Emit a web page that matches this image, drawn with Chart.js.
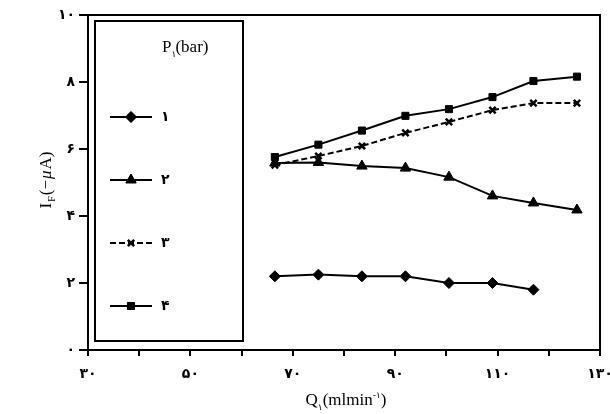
<!DOCTYPE html>
<html>
<head>
<meta charset="utf-8">
<script src="https://cdn.jsdelivr.net/npm/chart.js@4"></script>
<style>
  body { margin: 0; background: #fff; }
  #wrap { width: 610px; height: 414px; }
</style>
</head>
<body>
<div id="wrap"><canvas id="flow-chart" width="610" height="414"></canvas></div>
<script>
// liquid flow rate (ml/min) on x, current on y, one series per pressure
const flowRates = [66.5, 75, 83.5, 92, 100.5, 109, 117, 125.5];
const current1 = [2.2, 2.25, 2.2, 2.2, 2.0, 2.0, 1.8, null];
const current2 = [5.58, 5.6, 5.49, 5.43, 5.16, 4.6, 4.39, 4.18];
const current3 = [5.52, 5.79, 6.09, 6.48, 6.81, 7.16, 7.37, 7.37];
const current4 = [5.76, 6.13, 6.55, 6.99, 7.19, 7.55, 8.03, 8.16];
const pressureLabels = ["۱", "۲", "۳", "۴"];
const xTickValues = [30, 50, 70, 90, 110, 130];
const yTickValues = [0, 2, 4, 6, 8, 10];

const FONT = "'Liberation Serif', 'DejaVu Serif', 'DejaVu Sans', serif";
const DIGIT_FONT = "'DejaVu Sans', sans-serif";

function toPersian(n) {
  return String(n).replace(/\d/g, (d) => "۰۱۲۳۴۵۶۷۸۹"[d]);
}

function pts(values) {
  return flowRates.map((x, i) => ({ x: x, y: values[i] }));
}

const seriesStyle = [
  { data: current1, pointStyle: "rectRot", pointRadius: 5.5, borderDash: [] },
  { data: current2, pointStyle: "triangle", pointRadius: 6, borderDash: [] },
  { data: current3, pointStyle: "crossRot", pointRadius: 4.5, borderDash: [6, 3] },
  { data: current4, pointStyle: "rect", pointRadius: 5, borderDash: [] },
];

const datasets = seriesStyle.map((s, i) => ({
  label: pressureLabels[i],
  data: pts(s.data),
  borderColor: "#000",
  backgroundColor: "#000",
  borderWidth: 2,
  borderDash: s.borderDash,
  pointStyle: s.pointStyle,
  pointRadius: s.pointRadius,
  pointBorderWidth: s.pointStyle === "crossRot" ? 2.5 : 1,
  pointBorderColor: "#000",
  pointBackgroundColor: "#000",
  tension: 0,
  spanGaps: false,
}));

// frame, axis titles and the boxed legend
const decorations = {
  id: "decorations",
  afterDraw(chart) {
    const ctx = chart.ctx;
    const a = chart.chartArea;
    ctx.save();
    ctx.strokeStyle = "#000";
    ctx.fillStyle = "#000";
    ctx.lineWidth = 2;
    ctx.strokeRect(a.left, a.top, a.right - a.left, a.bottom - a.top);

    // legend box
    const bx = a.left + 7, by = a.top + 6, bw = 148, bh = 320;
    ctx.strokeRect(bx, by, bw, bh);

    ctx.textBaseline = "alphabetic";
    ctx.textAlign = "left";
    ctx.font = "17px " + FONT;
    let tx = bx + 67, ty = by + 31;
    ctx.fillText("P", tx, ty);
    tx += ctx.measureText("P").width;
    ctx.font = "9px " + DIGIT_FONT;
    ctx.fillText("۱", tx, ty + 5);
    tx += 4;
    ctx.font = "17px " + FONT;
    ctx.fillText("(bar)", tx, ty);

    const rowY = [117, 180, 243, 306];
    chart.data.datasets.forEach((ds, i) => {
      const y = rowY[i];
      ctx.lineWidth = 2;
      ctx.setLineDash(ds.borderDash);
      ctx.beginPath();
      ctx.moveTo(bx + 15, y);
      ctx.lineTo(bx + 57, y);
      ctx.stroke();
      ctx.setLineDash([]);
      ctx.lineWidth = ds.pointBorderWidth;
      Chart.helpers.drawPoint(ctx, {
        pointStyle: ds.pointStyle,
        radius: ds.pointRadius,
        borderWidth: ds.pointBorderWidth,
      }, bx + 36, y);
      ctx.fill();
      ctx.font = "bold 14px " + DIGIT_FONT;
      ctx.textBaseline = "middle";
      ctx.fillText(ds.label, bx + 66, y);
      ctx.textBaseline = "alphabetic";
    });

    // x axis title: Q1(mlmin-1)
    const qParts = [
      ["Q", 17, 0, FONT],
      ["۱", 9, 5, DIGIT_FONT],
      ["(mlmin", 17, 0, FONT],
      ["-۱", 9, -7, DIGIT_FONT],
      [")", 17, 0, FONT],
    ];
    let total = 0;
    qParts.forEach((p) => {
      ctx.font = p[1] + "px " + p[3];
      total += ctx.measureText(p[0]).width;
    });
    let qx = (a.left + a.right) / 2 - total / 2 + 2;
    const qy = 405;
    qParts.forEach((p) => {
      ctx.font = p[1] + "px " + p[3];
      ctx.fillText(p[0], qx, qy + p[2]);
      qx += ctx.measureText(p[0]).width;
    });

    // y axis title: IF(-μA), rotated
    ctx.translate(45, 182);
    ctx.rotate(-Math.PI / 2);
    const iParts = [
      ["I", "17px " + FONT, 0],
      ["F", "10px " + FONT, 4],
      ["(−", "17px " + FONT, 0],
      ["μ", "italic 17px " + FONT, 0],
      ["A)", "17px " + FONT, 0],
    ];
    total = 0;
    iParts.forEach((p) => {
      ctx.font = p[1];
      total += ctx.measureText(p[0]).width;
    });
    let ix = -total / 2;
    iParts.forEach((p) => {
      ctx.font = p[1];
      ctx.fillText(p[0], ix, 6 + p[2]);
      ix += ctx.measureText(p[0]).width + 1;
    });
    ctx.restore();
  },
};

new Chart(document.getElementById("flow-chart"), {
  type: "line",
  data: { datasets: datasets },
  options: {
    responsive: false,
    animation: false,
    layout: { padding: { left: 0, right: 10, top: 15, bottom: 0 } },
    plugins: {
      legend: { display: false },
      tooltip: { enabled: false },
    },
    scales: {
      x: {
        type: "linear",
        min: 30,
        max: 130,
        afterFit: (scale) => {
          scale.height = 64;
          scale.paddingLeft = 0;
          scale.paddingRight = 0;
        },
        border: { display: false },
        grid: {
          drawOnChartArea: false,
          drawTicks: true,
          tickLength: 6,
          color: "#000",
          lineWidth: 2,
        },
        ticks: {
          stepSize: 10,
          autoSkip: false,
          maxRotation: 0,
          padding: 10,
          color: "#000",
          font: { family: DIGIT_FONT, size: 14, weight: "bold" },
          callback: (v) => (xTickValues.includes(v) ? toPersian(v) : ""),
        },
      },
      y: {
        min: 0,
        max: 10,
        afterFit: (scale) => {
          scale.width = 88;
          scale.paddingTop = 0;
          scale.paddingBottom = 0;
        },
        border: { display: false },
        grid: {
          drawOnChartArea: false,
          drawTicks: true,
          tickLength: 9,
          color: "#000",
          lineWidth: 2,
        },
        ticks: {
          stepSize: 2,
          padding: 4,
          color: "#000",
          font: { family: DIGIT_FONT, size: 14, weight: "bold" },
          callback: (v) => (yTickValues.includes(v) ? toPersian(v) : ""),
        },
      },
    },
  },
  plugins: [decorations],
});
</script>
</body>
</html>
